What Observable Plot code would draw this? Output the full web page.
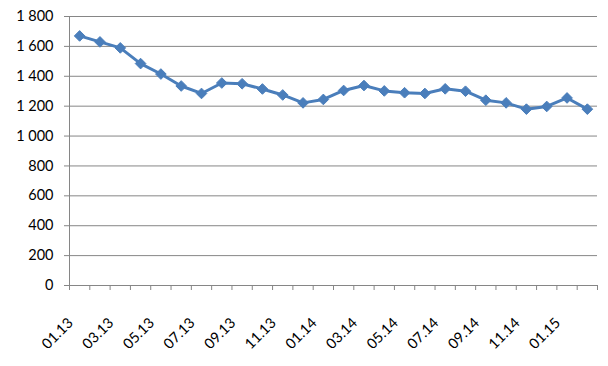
<!DOCTYPE html>
<html>
<head>
<meta charset="utf-8">
<script src="https://cdn.jsdelivr.net/npm/d3@7"></script>
<script src="https://cdn.jsdelivr.net/npm/@observablehq/plot@0.6"></script>
<style>
  html, body { margin: 0; padding: 0; background: #fff; }
  #chart { width: 608px; height: 366px; }
</style>
</head>
<body>
<div id="chart"></div>
<script>
const categories = ["01.13","02.13","03.13","04.13","05.13","06.13","07.13","08.13","09.13","10.13","11.13","12.13",
  "01.14","02.14","03.14","04.14","05.14","06.14","07.14","08.14","09.14","10.14","11.14","12.14",
  "01.15","02.15"];
const values = [1670,1630,1590,1485,1415,1335,1285,1355,1350,1315,1275,1222,
  1245,1305,1338,1302,1290,1285,1316,1300,1240,1222,1180,1198,1255,1180];
const yTicks = [0,200,400,600,800,1000,1200,1400,1600,1800];

const data = categories.map((c, i) => ({i, c, v: values[i]}));
const edges = d3.range(categories.length + 1).map(k => k - 0.5);
const labelled = data.filter(d => d.i % 2 === 0);
const fmt = d3.formatLocale({decimal: ",", thousands: " ", grouping: [3], currency: ["", ""]}).format(",d");
const color = "#4A7EBB";
const grid = "#868686";

const chart = Plot.plot({
  width: 608,
  height: 366,
  marginLeft: 69,
  marginRight: 11,
  marginTop: 16,
  marginBottom: 81,
  style: {fontFamily: "Lato", fontSize: "14.5px", color: "#000", background: "#fff"},
  x: {type: "linear", domain: [-0.5, categories.length - 0.5]},
  y: {domain: [0, 1800]},
  marks: [
    Plot.gridY(yTicks, {stroke: grid, strokeOpacity: 1}),
    Plot.ruleX([-0.5], {stroke: grid}),
    Plot.axisY(yTicks, {tickSize: 5, tickPadding: 11, stroke: grid, tickFormat: fmt, label: null, fill: "#000"}),
    Plot.axisX(edges, {tickSize: 5, stroke: grid, tickFormat: () => "", label: null}),
    Plot.text(labelled, {x: "i", frameAnchor: "bottom", text: "c", rotate: -45, textAnchor: "end", lineAnchor: "middle", dx: -9, dy: 35, fill: "#000"}),
    Plot.lineY(data, {x: "i", y: "v", stroke: color, strokeWidth: 3}),
    Plot.dot(data, {x: "i", y: "v", symbol: "diamond2", r: 4.8, fill: color, stroke: color, strokeWidth: 1})
  ]
});
document.getElementById("chart").append(chart);
</script>
</body>
</html>
